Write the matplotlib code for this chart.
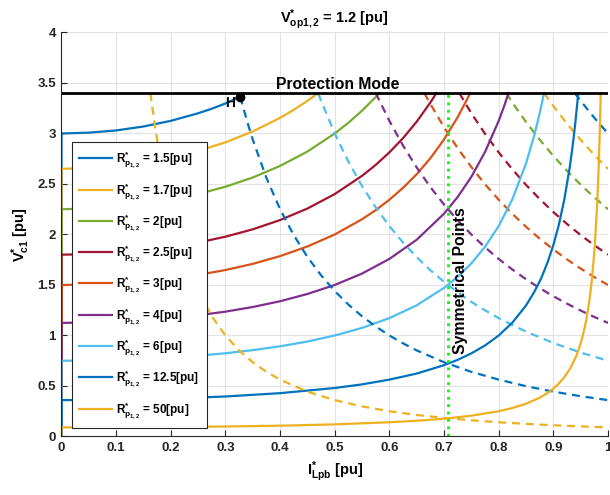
import matplotlib
matplotlib.use('Agg')
import matplotlib.pyplot as plt

plt.rcParams['font.family'] = ['Liberation Sans', 'DejaVu Sans']
plt.rcParams['font.weight'] = 'bold'
plt.rcParams['mathtext.fontset'] = 'custom'
plt.rcParams['mathtext.rm'] = 'Liberation Sans:bold'
plt.rcParams['mathtext.it'] = 'Liberation Sans:bold'
plt.rcParams['mathtext.bf'] = 'Liberation Sans:bold'
plt.rcParams['mathtext.default'] = 'regular'

# load resistance cases R*_p1,2 [pu]
rp_labels = ['1.5', '1.7', '2', '2.5', '3', '4', '6', '12.5', '50']

# rising branch (I*_Lpb, V*_c1) for each case
solid_x = [
    [0, 0, 0.05, 0.1, 0.15, 0.2, 0.25, 0.275, 0.3, 0.327],
    [0, 0, 0.05, 0.1, 0.15, 0.2, 0.25, 0.3, 0.35, 0.4, 0.425, 0.45, 0.47],
    [0, 0, 0.05, 0.1, 0.15, 0.2, 0.25, 0.3, 0.35, 0.4, 0.45, 0.5, 0.525, 0.55, 0.575, 0.582],
    [0, 0, 0.05, 0.1, 0.15, 0.2, 0.25, 0.3, 0.35, 0.4, 0.45, 0.5, 0.55, 0.575, 0.6, 0.625,
     0.65, 0.675, 0.686],
    [0, 0, 0.05, 0.1, 0.15, 0.2, 0.25, 0.3, 0.35, 0.4, 0.45, 0.5, 0.55, 0.575, 0.6, 0.625,
     0.65, 0.675, 0.7, 0.725, 0.74, 0.748],
    [0, 0, 0.05, 0.1, 0.15, 0.2, 0.25, 0.3, 0.35, 0.4, 0.45, 0.5, 0.55, 0.6, 0.65, 0.7, 0.725,
     0.75, 0.775, 0.8, 0.81, 0.818],
    [0, 0, 0.05, 0.1, 0.15, 0.2, 0.25, 0.3, 0.35, 0.4, 0.45, 0.5, 0.55, 0.6, 0.65, 0.7, 0.725,
     0.75, 0.775, 0.8, 0.825, 0.85, 0.865, 0.875, 0.883],
    [0, 0, 0.1, 0.2, 0.3, 0.4, 0.5, 0.55, 0.6, 0.65, 0.7, 0.725, 0.75, 0.775, 0.8, 0.825, 0.85,
     0.865, 0.875, 0.88, 0.89, 0.9, 0.91, 0.92, 0.93, 0.935, 0.94, 0.945, 0.9456],
    [0, 0, 0.1, 0.2, 0.3, 0.4, 0.5, 0.6, 0.65, 0.7, 0.75, 0.8, 0.825, 0.85, 0.875, 0.89, 0.9,
     0.91, 0.92, 0.93, 0.94, 0.945, 0.95, 0.955, 0.96, 0.965, 0.97, 0.975, 0.98, 0.983, 0.985,
     0.9867],
]
solid_v = [
    [0, 3.0, 3.008, 3.03, 3.069, 3.125, 3.2, 3.245, 3.297, 3.365],
    [0, 2.65, 2.657, 2.677, 2.711, 2.76, 2.827, 2.912, 3.02, 3.155, 3.234, 3.323, 3.4],
    [0, 2.25, 2.256, 2.273, 2.302, 2.344, 2.4, 2.473, 2.564, 2.679, 2.821, 3.0, 3.106, 3.226,
     3.361, 3.4],
    [0, 1.8, 1.805, 1.818, 1.841, 1.875, 1.92, 1.978, 2.051, 2.143, 2.257, 2.4, 2.581, 2.689,
     2.813, 2.954, 3.117, 3.307, 3.4],
    [0, 1.5, 1.504, 1.515, 1.535, 1.563, 1.6, 1.648, 1.709, 1.786, 1.881, 2.0, 2.151, 2.241,
     2.344, 2.462, 2.597, 2.755, 2.941, 3.162, 3.316, 3.4],
    [0, 1.125, 1.128, 1.136, 1.151, 1.172, 1.2, 1.236, 1.282, 1.339, 1.411, 1.5, 1.613, 1.758,
     1.948, 2.206, 2.372, 2.571, 2.817, 3.125, 3.271, 3.4],
    [0, 0.75, 0.752, 0.758, 0.767, 0.781, 0.8, 0.824, 0.855, 0.893, 0.94, 1.0, 1.075, 1.172,
     1.299, 1.471, 1.581, 1.714, 1.878, 2.083, 2.348, 2.703, 2.979, 3.2, 3.4],
    [0, 0.36, 0.364, 0.375, 0.396, 0.429, 0.48, 0.516, 0.563, 0.623, 0.706, 0.759, 0.823, 0.901,
     1.0, 1.127, 1.297, 1.43, 1.536, 1.596, 1.732, 1.895, 2.094, 2.344, 2.665, 2.862, 3.093,
     3.365, 3.4],
    [0, 0.09, 0.091, 0.094, 0.099, 0.107, 0.12, 0.141, 0.156, 0.176, 0.206, 0.25, 0.282, 0.324,
     0.384, 0.433, 0.474, 0.524, 0.586, 0.666, 0.773, 0.841, 0.923, 1.023, 1.148, 1.309, 1.523,
     1.823, 2.273, 2.67, 3.023, 3.4],
]

# falling (symmetrical) branch for each case
dashed_x = [
    [0.939, 0.95, 0.96, 0.97, 0.98, 0.99, 1.0],
    [0.883, 0.9, 0.925, 0.95, 0.975, 1.0],
    [0.814, 0.825, 0.85, 0.875, 0.9, 0.925, 0.95, 0.975, 1.0],
    [0.728, 0.75, 0.775, 0.8, 0.825, 0.85, 0.875, 0.9, 0.925, 0.95, 0.975, 1.0],
    [0.664, 0.675, 0.7, 0.725, 0.75, 0.775, 0.8, 0.825, 0.85, 0.875, 0.9, 0.925, 0.95, 0.975,
     1.0],
    [0.575, 0.6, 0.625, 0.65, 0.675, 0.7, 0.725, 0.75, 0.775, 0.8, 0.825, 0.85, 0.875, 0.9,
     0.925, 0.95, 0.975, 1.0],
    [0.47, 0.475, 0.5, 0.525, 0.55, 0.575, 0.6, 0.625, 0.65, 0.675, 0.7, 0.725, 0.75, 0.775,
     0.8, 0.85, 0.9, 0.95, 1.0],
    [0.327, 0.34, 0.35, 0.375, 0.4, 0.425, 0.45, 0.475, 0.5, 0.525, 0.55, 0.575, 0.6, 0.625,
     0.65, 0.7, 0.75, 0.8, 0.85, 0.9, 0.95, 1.0],
    [0.1627, 0.165, 0.17, 0.175, 0.18, 0.19, 0.2, 0.21, 0.22, 0.23, 0.24, 0.25, 0.275, 0.3,
     0.325, 0.35, 0.375, 0.4, 0.45, 0.5, 0.55, 0.6, 0.65, 0.7, 0.75, 0.8, 0.85, 0.9, 0.95, 1.0],
]
dashed_v = [
    [3.4, 3.324, 3.255, 3.188, 3.124, 3.061, 3.0],
    [3.4, 3.272, 3.097, 2.936, 2.788, 2.65],
    [3.4, 3.306, 3.114, 2.939, 2.778, 2.63, 2.493, 2.367, 2.25],
    [3.4, 3.2, 2.997, 2.813, 2.645, 2.491, 2.351, 2.222, 2.104, 1.994, 1.893, 1.8],
    [3.4, 3.292, 3.061, 2.854, 2.667, 2.497, 2.344, 2.204, 2.076, 1.959, 1.852, 1.753, 1.662,
     1.578, 1.5],
    [3.4, 3.125, 2.88, 2.663, 2.469, 2.296, 2.14, 2.0, 1.873, 1.758, 1.653, 1.557, 1.469, 1.389,
     1.315, 1.247, 1.183, 1.125],
    [3.395, 3.324, 3.0, 2.721, 2.479, 2.268, 2.083, 1.92, 1.775, 1.646, 1.531, 1.427, 1.333,
     1.249, 1.172, 1.038, 0.926, 0.831, 0.75],
    [3.365, 3.114, 2.939, 2.56, 2.25, 1.993, 1.778, 1.596, 1.44, 1.306, 1.19, 1.089, 1.0, 0.922,
     0.852, 0.735, 0.64, 0.563, 0.498, 0.444, 0.399, 0.36],
    [3.4, 3.306, 3.114, 2.939, 2.778, 2.493, 2.25, 2.041, 1.86, 1.701, 1.563, 1.44, 1.19, 1.0,
     0.852, 0.735, 0.64, 0.563, 0.444, 0.36, 0.298, 0.25, 0.213, 0.184, 0.16, 0.141, 0.125,
     0.111, 0.1, 0.09],
]

v_protect = 3.4        # protection mode threshold
i_sym = 0.707          # symmetrical points
point_h = (0.327, 3.365)

colors = ['#0072BD', '#EDB120', '#77AC30', '#A2142F', '#D95319',
          '#7E2F8E', '#4DBEEE', '#0072BD', '#EDB120']

fig = plt.figure(figsize=(6.1, 4.95), dpi=100)
ax = fig.add_axes([0.1008, 0.1182, 0.8959, 0.8162])

handles = []
for k in range(len(rp_labels)):
    h, = ax.plot(solid_x[k], solid_v[k], '-', color=colors[k], lw=1.6,
                 label=r'$R^{*}_{p_{1,2}}$ = ' + rp_labels[k] + '[pu]')
    ax.plot(dashed_x[k], dashed_v[k], '--', color=colors[k], lw=1.6, dashes=(3.6, 2.6))
    handles.append(h)

ax.plot([0, 1], [v_protect, v_protect], 'k-', lw=2)
ax.plot([i_sym, i_sym], [0, v_protect], ':', color='#00FF00', lw=2)
ax.plot(point_h[0], point_h[1], 'ko', ms=6)

ax.text(0.309, 3.305, 'H', fontsize=10, fontweight='bold', ha='center', va='center')
ax.text(0.506, 3.437, 'Protection Mode', fontsize=11.3, fontweight='bold',
        ha='center', va='baseline')
ax.text(0.731, 1.54, 'Symmetrical Points', fontsize=11.3, fontweight='bold',
        rotation=90, ha='center', va='center')

ax.set_xlim(0, 1)
ax.set_ylim(0, 4)
ax.set_xticks([0, 0.1, 0.2, 0.3, 0.4, 0.5, 0.6, 0.7, 0.8, 0.9, 1])
ax.set_xticklabels(['0', '0.1', '0.2', '0.3', '0.4', '0.5', '0.6', '0.7', '0.8', '0.9', '1'])
ax.set_yticks([0, 0.5, 1, 1.5, 2, 2.5, 3, 3.5, 4])
ax.set_yticklabels(['0', '0.5', '1', '1.5', '2', '2.5', '3', '3.5', '4'])
ax.grid(True, color='#E3E3E3', lw=0.8)
ax.set_axisbelow(True)
ax.tick_params(direction='in', length=4, width=0.8, colors='#262626', labelsize=9.5, pad=4)
for s in ['top', 'right']:
    ax.spines[s].set_visible(False)
for s in ['left', 'bottom']:
    ax.spines[s].set_color('#262626')
    ax.spines[s].set_linewidth(0.8)

ax.set_title(r'$V^{*}_{op1,2}$ = 1.2 [pu]', fontsize=10.5, fontweight='bold', pad=7)
ax.set_xlabel(r'$I^{*}_{Lpb}$ [pu]', fontsize=10.5, fontweight='bold', labelpad=4)
ax.set_ylabel(r'$V^{*}_{c1}$ [pu]', fontsize=10.5, fontweight='bold', labelpad=4)

leg = ax.legend(handles=handles, loc='lower left', bbox_to_anchor=(0.0187, 0.0203),
                fontsize=8.5, labelspacing=0.88, handlelength=2.8, handletextpad=0.3,
                borderpad=0.65, borderaxespad=0, fancybox=False, framealpha=1)
leg.get_frame().set_edgecolor('#262626')
leg.get_frame().set_linewidth(0.8)
for t in leg.get_texts():
    t.set_fontweight('bold')

fig.savefig('out.png', dpi=100)
